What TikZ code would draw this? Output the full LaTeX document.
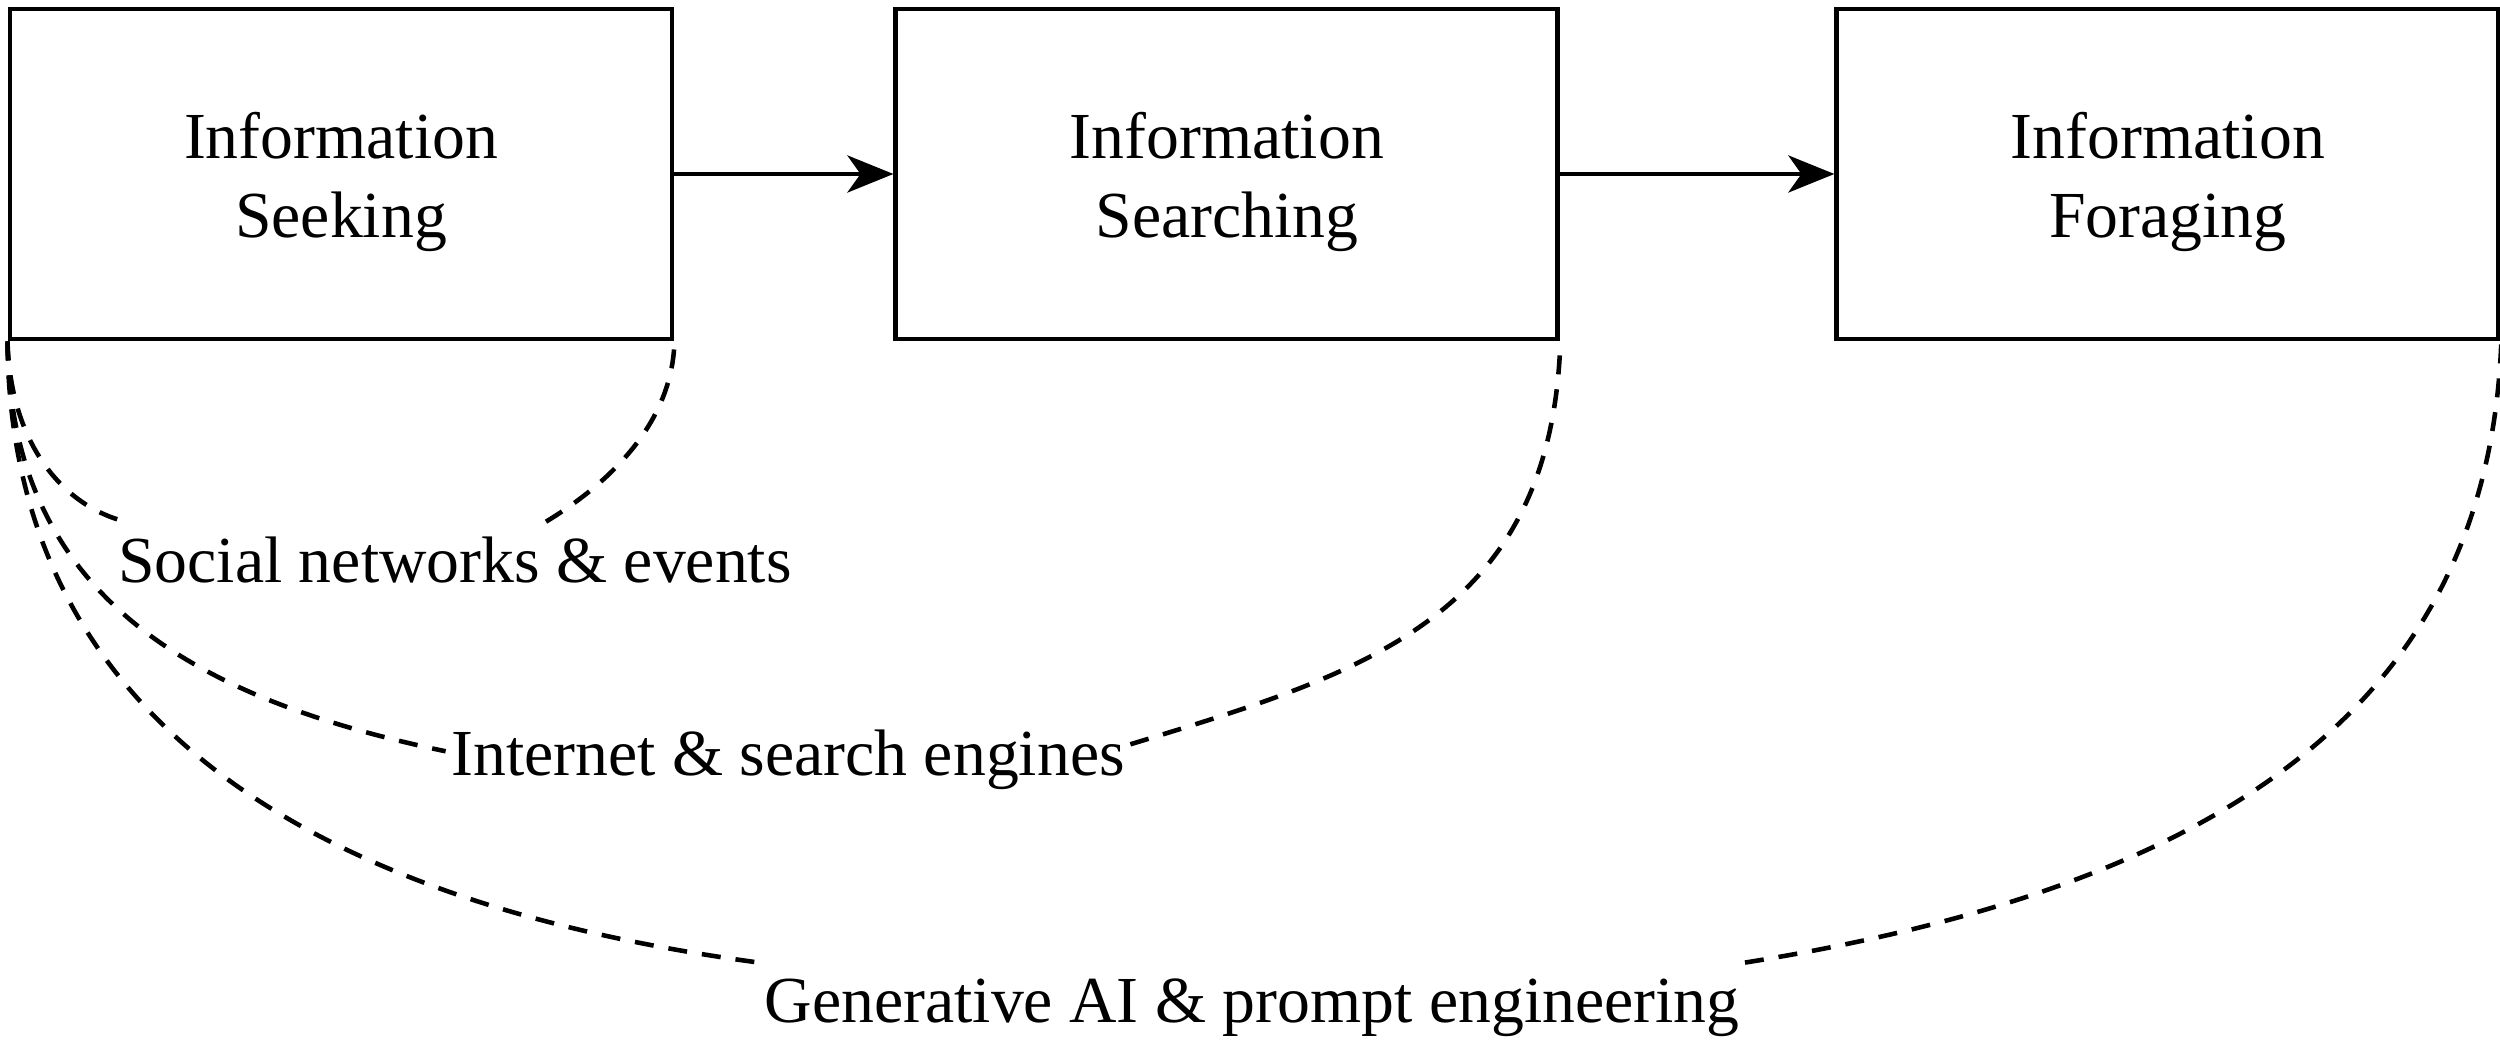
\documentclass[tikz,border=0pt]{standalone}
\usepackage{fontspec}
\setmainfont{Liberation Serif}
\usetikzlibrary{positioning,arrows.meta}

\begin{document}
\begin{tikzpicture}[
    stage/.style={draw, line width=1.4pt, minimum width=6.62cm, minimum height=3.30cm,
                  inner sep=0pt, align=center, text height=1.42cm,
                  font=\fontsize{18.7}{22.7}\selectfont},
    cue/.style={inner xsep=0.5mm, inner ysep=1.5mm, anchor=base,
                font=\fontsize{18.7}{22.7}\selectfont},
    flow/.style={line width=1.4pt, -{Stealth[length=4.6mm, width=3.7mm, inset=1.3mm]}},
    link/.style={line width=1.3pt, dash pattern=on 0.19cm off 0.15cm}]
\useasboundingbox (0,0) rectangle (25,-10.43);

% the three stages
\node[stage] (seek) at (3.41,-1.74) {Information\\Seeking};
\node[stage, right=2.19cm of seek] (search) {Information\\Searching};
\node[stage, right=2.74cm of search] (forage) {Information\\Foraging};

\draw[flow] (seek) -- (search);
\draw[flow] (search) -- (forage);

% what each stage is done with
\node[cue] (social) at (4.55,-5.83) {Social networks \& events};
\node[cue] (internet) at (7.88,-7.75) {Internet \& search engines};
\node[cue] (genai) at (12.52,-10.22) {Generative AI \& prompt engineering};

% dashed arcs under the stages
\draw[link] (seek.south west) .. controls (0.10,-4.40) and (0.60,-5.05) .. ([xshift=1.3mm]social.north west);
\draw[link] ([xshift=9.1mm]social.north) .. controls (5.90,-4.95) and (6.72,-4.35) .. (seek.south east);

\draw[link] (seek.south west) .. controls (0.10,-6.00) and (2.00,-7.00) .. ([yshift=0.8mm]internet.west);
\draw[link] ([yshift=1.5mm]internet.east) .. controls (13.64,-6.73) and (15.51,-6.18) .. (search.south east);

\draw[link] (seek.south west) .. controls (0.10,-7.30) and (3.30,-9.05) .. (genai.north west);
\draw[link] (genai.north east) .. controls (22.30,-8.85) and (24.88,-7.00) .. (forage.south east);
\end{tikzpicture}
\end{document}
